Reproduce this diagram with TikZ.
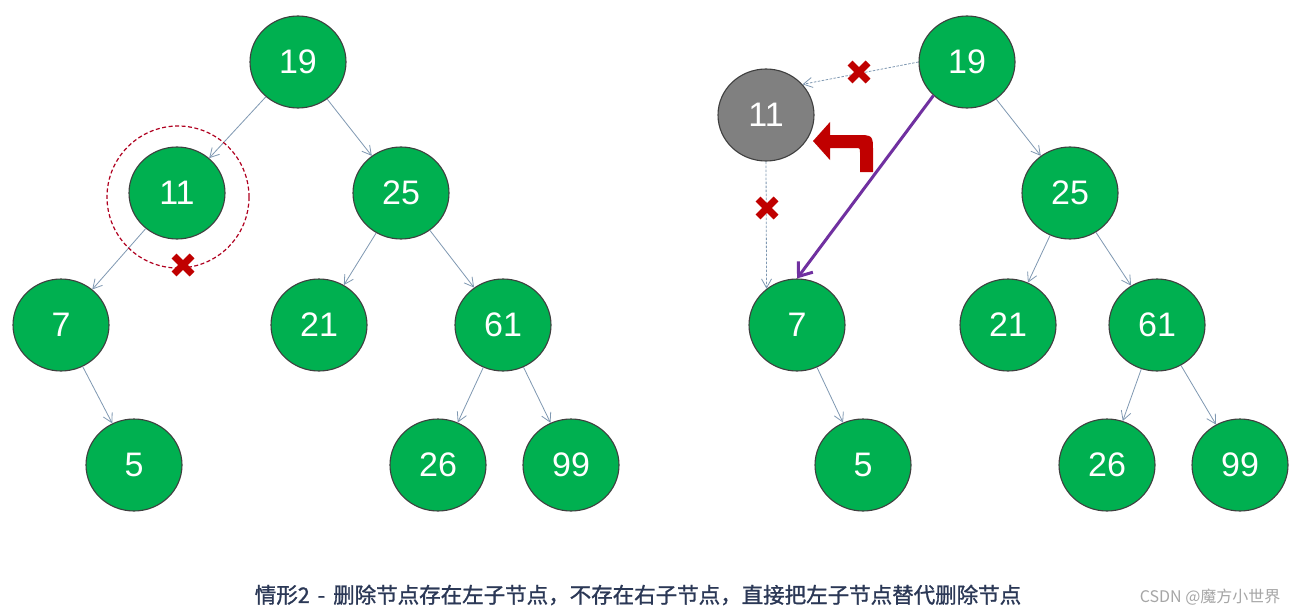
\documentclass[tikz,border=0pt]{standalone}
\usepackage{fontspec}
\setmainfont{Liberation Sans}
\newfontfamily\cjk{Noto Sans CJK SC}
\newfontfamily\cjkb[FakeBold=1.2]{Noto Sans CJK SC}
\usetikzlibrary{shapes.geometric,arrows.meta}
\definecolor{nodegreen}{HTML}{00B050}
\definecolor{nodegray}{HTML}{808080}
\definecolor{rim}{HTML}{3F3F3F}
\definecolor{edgeblue}{HTML}{7F98B2}
\definecolor{xred}{HTML}{C00000}
\definecolor{ringred}{HTML}{B00020}
\definecolor{purp}{HTML}{7030A0}
\definecolor{captc}{HTML}{2B3856}
\definecolor{wm}{HTML}{A6A6A6}
\tikzset{
  tnode/.style={ellipse, draw=rim, line width=1.1pt, fill=nodegreen, minimum width=96pt, minimum height=92pt, inner sep=0pt, text=white, font=\fontsize{34}{34}\selectfont},
  gnode/.style={tnode, fill=nodegray},
  edge/.style={draw=edgeblue, line width=0.8pt, -{Straight Barb[length=9pt,width=10pt,line width=0.8pt]}},
  dedge/.style={edge, dash pattern=on 2.5pt off 1.5pt},
  purple arrow/.style={draw=purp, line width=3pt, -{Straight Barb[length=12pt,width=18pt,line width=3pt]}},
  xmark/.style={draw=xred, line width=7pt},
}
\newcommand{\redx}[2]{\draw[xmark] (#1-9,#2-9) -- (#1+9,#2+9); \draw[xmark] (#1-9,#2+9) -- (#1+9,#2-9);}
\begin{document}
\begin{tikzpicture}[x=1pt,y=-1pt]
\useasboundingbox[fill=white] (0,0) rectangle (1297,615);
% left tree
\node[tnode] (l19) at (298,62) {19};
\node[tnode] (l11) at (177,193) {11};
\node[tnode] (l25) at (401,193) {25};
\node[tnode] (l7) at (61,325) {7};
\node[tnode] (l21) at (319,325) {21};
\node[tnode] (l61) at (503,325) {61};
\node[tnode] (l5) at (134,465) {5};
\node[tnode] (l26) at (438,465) {26};
\node[tnode] (l99) at (571,465) {99};
\draw[edge] (l19) -- (l11);
\draw[edge] (l19) -- (l25);
\draw[edge] (l11) -- (l7);
\draw[edge] (l7) -- (l5);
\draw[edge] (l25) -- (l21);
\draw[edge] (l25) -- (l61);
\draw[edge] (l61) -- (l26);
\draw[edge] (l61) -- (l99);
\node[circle, draw=ringred, line width=1.2pt, dash pattern=on 4pt off 2.5pt, minimum size=142pt, inner sep=0pt] (ring) at (178,197) {};
\redx{183}{265}
% right tree
\node[tnode] (r19) at (967,62) {19};
\node[gnode] (r11) at (766,115) {11};
\node[tnode] (r25) at (1070,193) {25};
\node[tnode] (r7) at (797,325) {7};
\node[tnode] (r21) at (1008,325) {21};
\node[tnode] (r61) at (1157,325) {61};
\node[tnode] (r5) at (863,465) {5};
\node[tnode] (r26) at (1107,465) {26};
\node[tnode] (r99) at (1240,465) {99};
\draw[dedge] (r19.west) -- (r11.40);
\draw[dedge] (r11.south) -- (r7.130);
\draw[edge] (r19) -- (r25);
\draw[edge] (r7) -- (r5);
\draw[edge] (r25) -- (r21);
\draw[edge] (r25) -- (r61);
\draw[edge] (r61) -- (r26);
\draw[edge] (r61) -- (r99);
\draw[purple arrow] (r19.225) -- (r7.north);
\redx{859}{72}
\redx{767}{208}
% curved red arrow
\fill[xred] (873,172) -- (873,152) .. controls (873,135) .. (856,135) -- (830,135) -- (830,122) -- (813,141) -- (830,160) -- (830,148) -- (855,148) .. controls (860,148) .. (860,153) -- (860,172) -- cycle;
% caption
\node[text=captc, font=\cjkb\fontsize{21.5}{23}\selectfont, anchor=center] (cap) at (638,595) {情形2\hspace{8pt}-\hspace{8pt}删除节点存在左子节点，不存在右子节点，直接把左子节点替代删除节点};
\node[text=wm, font=\cjk\fontsize{16}{18}\selectfont, anchor=east] (wmk) at (1284,597) {CSDN @魔方小世界};
\end{tikzpicture}
\end{document}
